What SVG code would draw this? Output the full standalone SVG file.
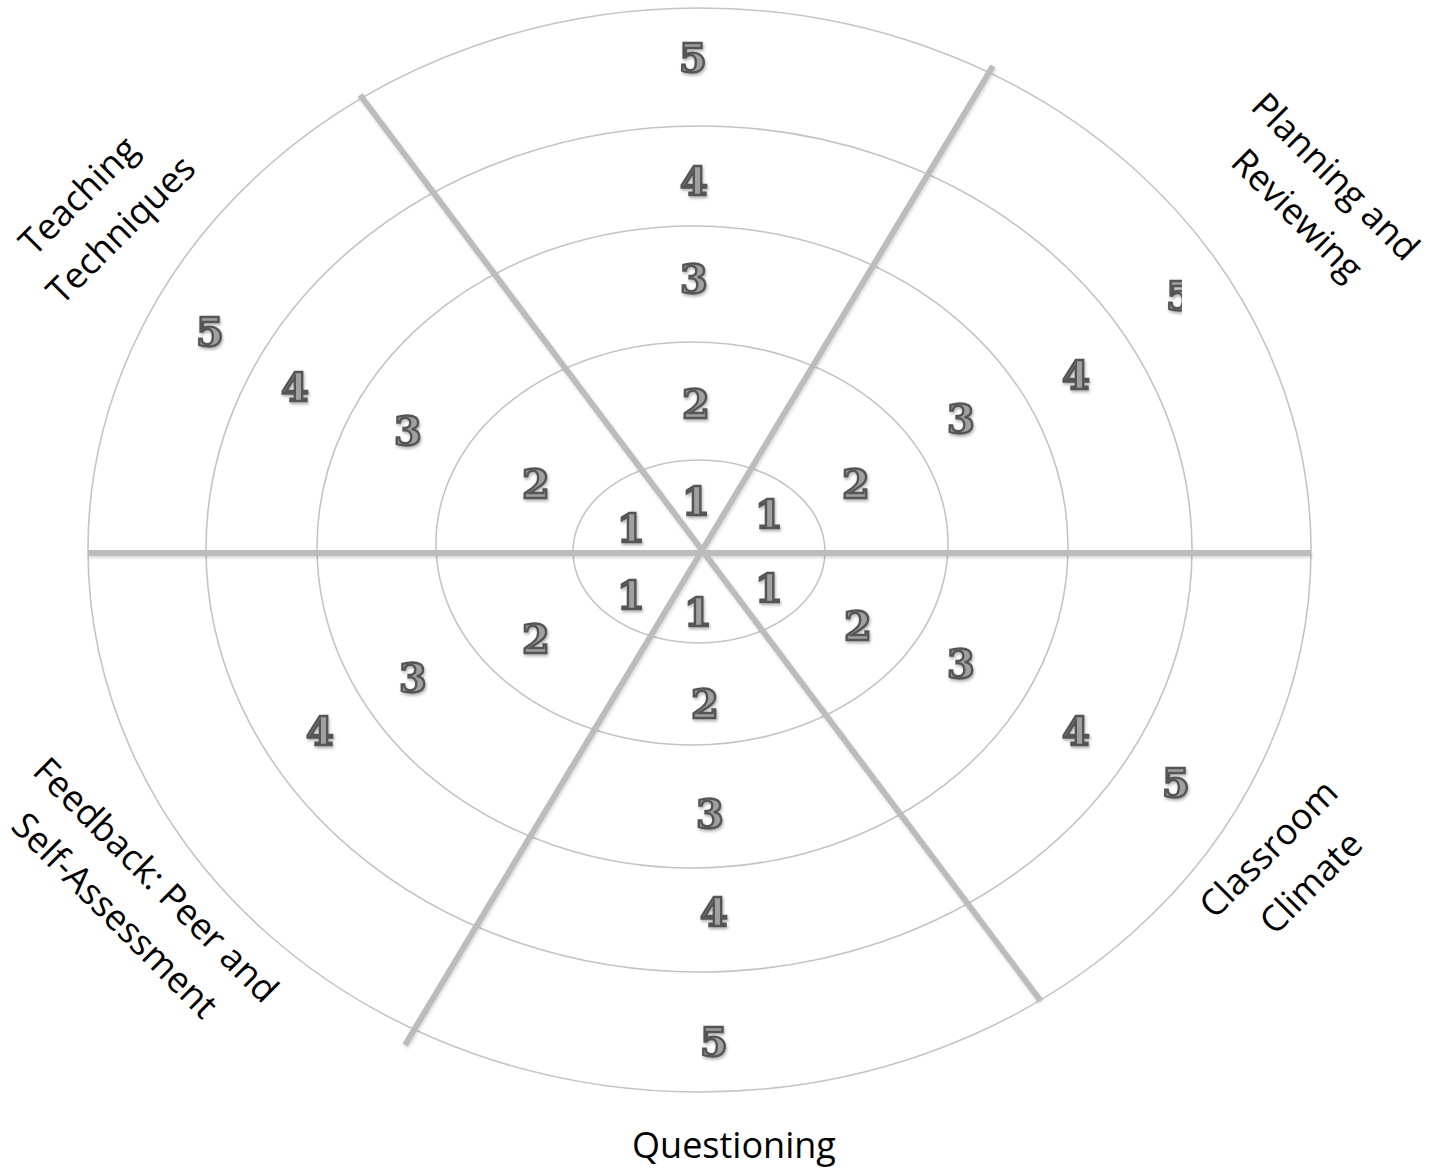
<svg xmlns="http://www.w3.org/2000/svg" width="1437" height="1171" viewBox="0 0 1437 1171">
<style>
.ring{fill:none;stroke:#c4c4c4;stroke-width:1.6}
.spoke{stroke:#bcbcbc;stroke-width:6;stroke-linecap:butt}
.num{font-family:"DejaVu Serif","Liberation Serif",serif;font-weight:bold;font-size:40px;fill:#a0a0a0;stroke:#555;stroke-width:2.4;text-anchor:middle;dominant-baseline:central;filter:url(#sh)}
.lbl{font-family:"Open Sans","Noto Sans",sans-serif;font-size:36px;fill:#000;text-anchor:middle}
</style>
<defs>
<filter id="sh" x="-30%" y="-30%" width="160%" height="160%">
<feDropShadow dx="1" dy="2" stdDeviation="1.5" flood-color="#000" flood-opacity="0.3"/>
</filter>
<filter id="lsh" x="-5%" y="-5%" width="110%" height="110%">
<feDropShadow dx="1" dy="2" stdDeviation="1.5" flood-color="#000" flood-opacity="0.15"/>
</filter>
<clipPath id="clip5"><rect x="1100" y="250" width="82" height="90"/></clipPath>
</defs>
<rect width="1437" height="1171" fill="#fff"/>
<g id="rings">
<ellipse class="ring" cx="699.5" cy="550" rx="611.5" ry="542"/>
<ellipse class="ring" cx="699" cy="549" rx="493" ry="423"/>
<ellipse class="ring" cx="692.5" cy="547" rx="375.5" ry="321"/>
<ellipse class="ring" cx="692" cy="543.5" rx="256" ry="201.5"/>
<ellipse class="ring" cx="699" cy="551.5" rx="126" ry="91.5"/>
</g>
<g id="connectors" filter="url(#lsh)">
<line class="spoke" x1="88" y1="553" x2="1311" y2="553"/>
<line class="spoke" x1="360" y1="95" x2="1040" y2="1000"/>
<line class="spoke" x1="993" y1="66" x2="405" y2="1045"/>
</g>
<g id="scores">
<text class="num" x="693" y="57">5</text>
<text class="num" x="694" y="180">4</text>
<text class="num" x="694" y="278">3</text>
<text class="num" x="696" y="403">2</text>
<text class="num" x="696" y="500">1</text>
<text class="num" x="769" y="513">1</text>
<text class="num" x="856" y="483">2</text>
<text class="num" x="961" y="418">3</text>
<text class="num" x="1076" y="374">4</text>
<g clip-path="url(#clip5)"><text class="num" x="1180" y="295">5</text></g>
<text class="num" x="631" y="527">1</text>
<text class="num" x="536" y="483">2</text>
<text class="num" x="408" y="430">3</text>
<text class="num" x="295" y="386">4</text>
<text class="num" x="210" y="331">5</text>
<text class="num" x="631" y="594">1</text>
<text class="num" x="536" y="638">2</text>
<text class="num" x="413" y="677">3</text>
<text class="num" x="320" y="730">4</text>
<text class="num" x="769" y="587">1</text>
<text class="num" x="858" y="625">2</text>
<text class="num" x="961" y="663">3</text>
<text class="num" x="1076" y="730">4</text>
<text class="num" x="1176" y="782">5</text>
<text class="num" x="698" y="611">1</text>
<text class="num" x="705" y="703">2</text>
<text class="num" x="710" y="813">3</text>
<text class="num" x="714" y="911">4</text>
<text class="num" x="714" y="1041">5</text>
</g>
<g id="label-teaching" transform="translate(100,213) rotate(-45)">
<text class="lbl"><tspan x="-3" y="-15">Teaching</tspan><tspan x="3" y="39">Techniques</tspan></text>
</g>
<g id="label-planning" transform="translate(1316,196) rotate(45)">
<text class="lbl"><tspan x="0" y="-15">Planning and</tspan><tspan x="0" y="39">Reviewing</tspan></text>
</g>
<g id="label-feedback" transform="translate(135,898) rotate(45)">
<text class="lbl"><tspan x="2" y="-15">Feedback: Peer and</tspan><tspan x="-2" y="39">Self-Assessment</tspan></text>
</g>
<g id="label-classroom" transform="translate(1290,866) rotate(-45)">
<text class="lbl"><tspan x="-3" y="-15">Classroom</tspan><tspan x="3" y="39">Climate</tspan></text>
</g>
<g id="label-questioning">
<text class="lbl" x="734" y="1158">Questioning</text>
</g>
</svg>
